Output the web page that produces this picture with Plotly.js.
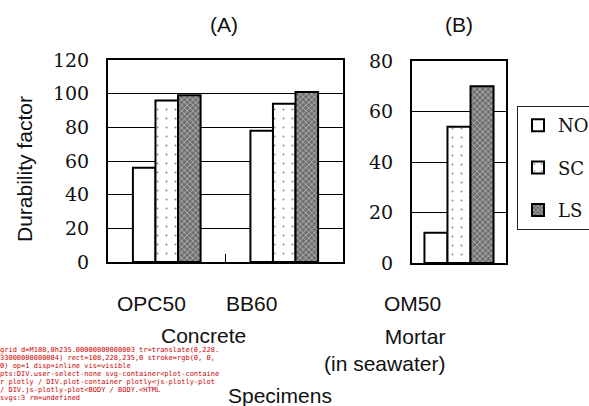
<!DOCTYPE html>
<html>
<head>
<meta charset="utf-8">
<script src="https://cdn.plot.ly/plotly-3.0.1.min.js"></script>
<style>html,body{margin:0;padding:0;background:#fff;}#chart{width:589px;height:406px;}#dbg{position:absolute;left:0;top:346px;font:7px monospace;color:#c00;width:222px;white-space:pre-wrap;word-break:break-all;}</style>
</head>
<body>
<div id="chart"></div>
<div id="dbg"></div>
<script>
// ---- data ----
const seriesNames = ["NO", "SC", "LS"];
const concreteCats = ["OPC50", "BB60"];
const concreteVals = {
  NO: [56, 78],
  SC: [96, 94],
  LS: [99, 101]
};
const mortarCats = ["OM50"];
const mortarVals = {
  NO: [12],
  SC: [54],
  LS: [70]
};
const yTicksA = [0, 20, 40, 60, 80, 100, 120];
const yTicksB = [0, 20, 40, 60, 80];
const groupLabelA = "Concrete";
const groupLabelB = "Mortar<br>(in seawater)";
const panelTitles = ["(A)", "(B)"];
const yTitle = "Durability factor";
const xTitle = "Specimens";

// ---- styles ----
const serif = "DejaVu Serif";
const sans = "Liberation Sans";
const patterns = {
  NO: {shape: "", bgcolor: "white"},
  SC: {shape: ".", size: 9, solidity: 0.04, fgcolor: "#111", bgcolor: "white", fillmode: "overlay"},
  LS: {shape: "x", size: 4, solidity: 0.35, fgcolor: "#ffffff", bgcolor: "#707070", fillmode: "overlay"}
};

const W = 589, H = 406;
const px = v => v / W;
const py = v => 1 - v / H;

const traces = [];
const wA = 0.192, wB = 0.245;
seriesNames.forEach((s, i) => {
  traces.push({
    type: "bar", name: s, x: concreteCats, y: concreteVals[s],
    xaxis: "x", yaxis: "y",
    width: wA, offset: (i - 1.5) * wA,
    marker: {color: "white", pattern: patterns[s], line: {color: "black", width: 2}},
    legendgroup: s, showlegend: true, hoverinfo: "skip"
  });
  traces.push({
    type: "bar", name: s, x: mortarCats, y: mortarVals[s],
    xaxis: "x2", yaxis: "y2",
    width: wB, offset: (i - 1.5) * wB,
    marker: {color: "white", pattern: patterns[s], line: {color: "black", width: 2}},
    legendgroup: s, showlegend: false, hoverinfo: "skip"
  });
});

function yAxis(extra) {
  return Object.assign({
    showline: true, linecolor: "black", linewidth: 2, mirror: true,
    showgrid: true, gridcolor: "#000000", gridwidth: 1, zeroline: false,
    ticks: "inside", ticklen: 5, tickcolor: "black", tickwidth: 1,
    tickmode: "array",
    tickfont: {family: serif, size: 19, color: "#111"},
    ticklabelstandoff: 13, fixedrange: true
  }, extra);
}
function xAxis(extra) {
  return Object.assign({
    type: "category", showline: true, linecolor: "black", linewidth: 2, mirror: true,
    showticklabels: false, ticks: "inside", tickson: "boundaries", ticklen: 8,
    tickcolor: "black", tickwidth: 1, showgrid: false, zeroline: false, fixedrange: true
  }, extra);
}

const annotations = [
  {text: panelTitles[0], x: px(224), y: py(24)},
  {text: panelTitles[1], x: px(459), y: py(24)},
  {text: concreteCats[0], x: px(151), y: py(303)},
  {text: concreteCats[1], x: px(251), y: py(303)},
  {text: groupLabelA, x: px(203), y: py(335)},
  {text: mortarCats[0], x: px(412), y: py(303)},
  {text: groupLabelB, x: px(447), y: py(350), xanchor: "right", align: "right"},
  {text: xTitle, x: px(280), y: py(395)},
  {text: yTitle, x: px(24), y: py(169), textangle: -90}
].map(a => Object.assign({
  xref: "paper", yref: "paper", showarrow: false,
  xanchor: "center", yanchor: "middle",
  font: {family: sans, size: 21, color: "#111"}
}, a));

const layout = {
  width: W, height: H,
  margin: {l: 0, r: 0, t: 0, b: 0, autoexpand: false},
  paper_bgcolor: "white", plot_bgcolor: "rgba(0,0,0,0)",
  showlegend: true,
  xaxis: xAxis({domain: [px(108), px(343)], anchor: "y"}),
  yaxis: yAxis({domain: [py(262), py(60)], range: [0, 120], tickvals: yTicksA, anchor: "x"}),
  xaxis2: xAxis({domain: [px(412), px(506)], anchor: "y2"}),
  yaxis2: yAxis({domain: [py(263), py(61)], range: [0, 80], tickvals: yTicksB, anchor: "x2"}),
  legend: {
    x: px(517), y: py(106), xanchor: "left", yanchor: "top",
    bordercolor: "#222", borderwidth: 1, bgcolor: "white",
    font: {family: serif, size: 18, color: "#111"},
    tracegroupgap: 16
  },
  annotations: annotations
};

function describe(el) {
  if (!el) return "null";
  const c = (el.getAttribute && (el.getAttribute("class") || "")) || "";
  const p = el.parentNode && el.parentNode.getAttribute ? (el.parentNode.getAttribute("class") || el.parentNode.tagName) : "";
  return el.tagName + "." + c + "<" + p;
}
Plotly.newPlot("chart", traces, layout, {staticPlot: true}).then(gd => {
  setTimeout(() => {
    const out = [];
    const g = document.querySelector(".ygrid");
    if (g) {
      const r = g.getBoundingClientRect();
      const cs = getComputedStyle(g);
      out.push("grid d=" + g.getAttribute("d") + " tr=" + g.getAttribute("transform") + " rect=" + [r.x, r.y, r.width, r.height].map(v => Math.round(v)).join(",") + " stroke=" + cs.stroke + " op=" + cs.opacity + " disp=" + cs.display + " vis=" + cs.visibility);
    }
    out.push("pts:" + document.elementsFromPoint(120, 228).slice(0, 4).map(describe).join(" / "));
    out.push("svgs:" + document.querySelectorAll("svg.main-svg").length + " rm=" + gd._fullLayout._redrawFromAutoMarginCount);
    document.getElementById("dbg").textContent = out.join("\n");
  }, 200);
});
</script>
</body>
</html>
